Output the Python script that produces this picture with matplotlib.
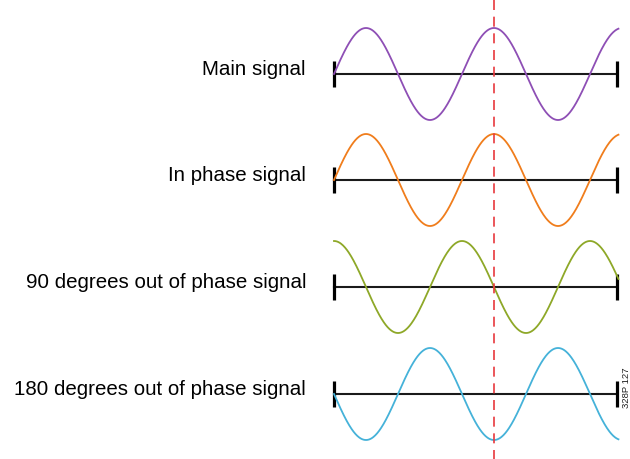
import numpy as np
import matplotlib.pyplot as plt

plt.rcParams['font.family'] = ['Liberation Sans', 'DejaVu Sans']

# --- Data ---
labels = ['Main signal', 'In phase signal',
          '90 degrees out of phase signal', '180 degrees out of phase signal']
phase_shift = [0, 0, 90, 180]          # degrees relative to the main signal
colors = ['#8e4fb5', '#f07d1c', '#8ea828', '#45b2d9']
marker_deg = 450                        # red dashed reference position
span_deg = 800                          # length of each trace in degrees

# --- Layout (pixel-ish units, figure is 630x459) ---
px_per_deg = 128 / 360
x0_px = 334
baselines = [74, 180, 287, 394]
amp = 46


def to_px(deg):
    return x0_px + np.asarray(deg) * px_per_deg


fig = plt.figure(figsize=(6.3, 4.59), dpi=100)
ax = fig.add_axes([0, 0, 1, 1])
ax.set_xlim(0, 630)
ax.set_ylim(459, 0)
ax.axis('off')

deg = np.linspace(0, span_deg, 600)
for lab, ph, col, yb in zip(labels, phase_shift, colors, baselines):
    # axis with end bars
    ax.plot([to_px(0), to_px(796)], [yb, yb], color='#1a1a1a', lw=1.5, zorder=2)
    for xe in (0, 796):
        ax.plot([to_px(xe), to_px(xe)], [yb - 13, yb + 13], color='black',
                lw=2.3, solid_capstyle='butt', zorder=3)
    y = yb - amp * np.sin(np.radians(deg + ph))
    ax.plot(to_px(deg), y, color=col, lw=1.3, zorder=4)
    ax.text(306, yb + 1, lab, ha='right', va='baseline', fontsize=14.8, color='black')

ax.plot([to_px(marker_deg)] * 2, [0, 459], color='#e8383d', lw=1.2,
        dashes=(6, 4), zorder=5)

ax.text(626.5, 388, '328P 127', rotation=90, ha='center', va='center',
        fontsize=6.8, color='#222222')

fig.savefig('out.png', dpi=100, facecolor='white')
